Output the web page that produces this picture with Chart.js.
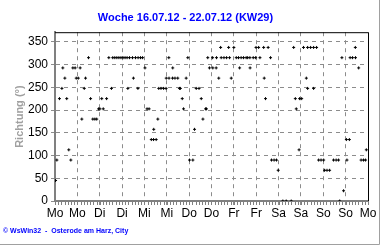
<!DOCTYPE html>
<html lang="de">
<head>
    <meta charset="UTF-8">
    <title>Woche 16.07.12 - 22.07.12 (KW29)</title>
    <script src="https://cdn.jsdelivr.net/npm/chart.js"></script>
    <style>
        body { margin: 0; background: #fff; }
        #wrap { width: 380px; height: 245px; }
    </style>
</head>
<body>
    <div id="wrap"><canvas id="windChart" width="380" height="245"></canvas></div>

    <script>
        // hours since Monday 16.07.12 00:00, wind direction in degrees
        const hours = [
            0.3, 1.0, 2.4, 3.7, 4.2, 5.3, 6.3, 7.4, 8.5, 9.6, 10.8, 11.4, 12.5, 13.5, 14.4, 15.7, 16.4, 18.0, 19.1,
            20.3, 21.4, 22.4, 23.4, 24.1, 25.1, 25.9, 27.7, 28.9, 30.3, 31.0, 32.1, 33.2, 34.3, 35.4, 36.5, 37.6,
            38.7, 39.1, 40.0, 41.6, 42.1, 43.2, 44.5, 44.6, 45.9, 47.0, 48.3, 49.4, 50.5, 51.7, 52.9, 53.0, 54.3,
            55.2, 55.7, 56.9, 58.3, 59.6, 59.7, 61.1, 61.2, 63.1, 63.2, 64.4, 65.9, 66.8, 67.3, 68.3, 69.0, 70.4,
            71.3, 72.2, 74.0, 74.9, 75.8, 77.3, 78.5, 79.4, 80.8, 81.3, 82.0, 82.9, 84.6, 84.7, 86.5, 86.7, 87.9,
            88.9, 89.2, 90.7, 92.1, 93.2, 93.7, 94.6, 96.0, 97.3, 98.5, 99.1, 99.9, 101.2, 102.6, 103.4, 104.6,
            104.7, 106.4, 107.7, 107.9, 109.3, 110.0, 112.0, 112.3, 113.0, 114.4, 115.7, 116.2, 117.6, 118.9,
            119.8, 122.3, 124.1, 126.8, 128.1, 129.0, 129.5, 131.0, 131.3, 132.4, 133.4, 134.9, 135.6, 135.6,
            137.2, 138.8, 138.8, 140.4, 141.5, 142.8, 144.2, 144.7, 146.0, 147.4, 149.5, 150.9, 152.2, 152.8,
            154.0, 154.9, 156.4, 156.7, 158.0, 158.4, 159.7, 161.2, 161.3, 163.0, 164.3, 165.6, 166.7, 167.1
        ];
        const directions = [
            45, 90, 225, 247.5, 292.5, 270, 225, 112.5, 90, 292.5, 292.5, 270, 270, 292.5, 180, 247.5, 270, 315, 225,
            180, 180, 180, 202.5, 202.5, 225, 202.5, 225, 315, 247.5, 315, 315, 315, 315, 315, 315, 315,
            315, 247.5, 315, 315, 270, 315, 247.5, 315, 315, 315, 292.5, 202.5, 202.5, 135, 135, 157.5, 135,
            180, 247.5, 247.5, 247.5, 247.5, 270, 315, 270, 270, 292.5, 270, 270, 247.5, 247.5, 225, 202.5, 270,
            315, 90, 90, 157.5, 247.5, 247.5, 225, 180, 202.5, 202.5, 315, 292.5, 315, 292.5, 292.5, 315, 270,
            337.5, 315, 315, 315, 337.5, 315, 270, 337.5, 315, 315, 292.5, 315, 315, 315, 315, 315,
            292.5, 315, 315, 337.5, 337.5, 315, 337.5, 270, 225, 337.5, 315, 90, 90, 90,
            67.5, 0, 0, 0, 337.5, 225, 202.5, 112.5, 225, 225, 337.5, 270, 337.5, 247.5,
            337.5, 337.5, 247.5, 337.5, 90, 90, 90, 67.5, 67.5, 67.5, 90, 90, 90, 0,
            315, 22.5, 135, 90, 135, 315, 315, 337.5, 315, 292.5, 90, 90, 90, 112.5
        ];
        const dayLabels = ['Mo', 'Mo', 'Di', 'Di', 'Mi', 'Mi', 'Do', 'Do', 'Fr', 'Fr', 'Sa', 'Sa', 'So', 'So', 'Mo'];
        const yTickValues = [0, 50, 100, 150, 200, 250, 300, 350];

        const fontFamily = '"Liberation Sans", Arial, sans-serif';

        // black frame on top/right, minor ticks on the time axis, outer grey edge
        const framePlugin = {
            id: 'frame',
            afterDraw(chart) {
                const { ctx, chartArea: a, scales } = chart;
                ctx.save();
                ctx.strokeStyle = '#000';
                ctx.lineWidth = 1;
                ctx.beginPath();
                ctx.moveTo(a.left, a.top + 0.5);
                ctx.lineTo(a.right + 0.5, a.top + 0.5);
                ctx.lineTo(a.right + 0.5, a.bottom);
                ctx.stroke();

                ctx.strokeStyle = '#808080';
                ctx.beginPath();
                for (let v = 0; v <= 168.01; v += 12 / 7) {
                    const px = Math.round(scales.x.getPixelForValue(v)) + 0.5;
                    ctx.moveTo(px, a.bottom);
                    ctx.lineTo(px, a.bottom + 4);
                }
                ctx.stroke();

                ctx.strokeStyle = '#a0a0a0';
                ctx.beginPath();
                ctx.moveTo(chart.width - 0.5, 0);
                ctx.lineTo(chart.width - 0.5, chart.height - 0.5);
                ctx.lineTo(0, chart.height - 0.5);
                ctx.stroke();
                ctx.restore();
            }
        };

        const ctx = document.getElementById('windChart').getContext('2d');
        const windChart = new Chart(ctx, {
            type: 'scatter',
            data: {
                datasets: [{
                    data: hours.map((h, i) => ({ x: h, y: directions[i] })),
                    pointStyle: 'cross',
                    radius: 1.5,
                    borderColor: '#000',
                    backgroundColor: '#000',
                    borderWidth: 1
                }]
            },
            options: {
                responsive: false,
                animation: false,
                layout: { padding: { left: 3, right: 12, top: 0, bottom: 5.6 } },
                plugins: {
                    legend: { display: false },
                    tooltip: { enabled: false },
                    title: {
                        display: true,
                        text: 'Woche 16.07.12 - 22.07.12 (KW29)',
                        color: '#0000ff',
                        font: { family: fontFamily, size: 11, weight: 'bold' },
                        padding: { top: 11, bottom: 8 }
                    },
                    subtitle: {
                        display: true,
                        position: 'bottom',
                        align: 'start',
                        text: '\u00a9 WsWin32  -  Osterode am Harz, City',
                        color: '#0000ff',
                        font: { family: fontFamily, size: 7, weight: 'bold' },
                        padding: { top: 4, bottom: 4 }
                    }
                },
                scales: {
                    x: {
                        type: 'linear',
                        min: 0,
                        max: 168,
                        afterFit: scale => { scale.height = 22; },
                        ticks: {
                            stepSize: 12,
                            autoSkip: false,
                            maxRotation: 0,
                            padding: 1,
                            color: '#000',
                            font: { family: fontFamily, size: 12 },
                            callback: v => dayLabels[Math.round(v / 12)]
                        },
                        grid: { color: '#8c8c8c', lineWidth: 1, tickLength: 4 },
                        border: { display: true, color: '#808080', width: 2, dash: [4, 4] }
                    },
                    y: {
                        min: 0,
                        max: 371,
                        afterFit: scale => { scale.width = 52; },
                        afterBuildTicks: scale => {
                            scale.ticks = yTickValues.map(v => ({ value: v }));
                        },
                        ticks: {
                            color: '#000',
                            padding: 3,
                            font: { family: fontFamily, size: 12 }
                        },
                        grid: { color: '#8c8c8c', lineWidth: 1, tickLength: 4 },
                        border: { display: true, color: '#808080', width: 2, dash: [4, 4] },
                        title: {
                            display: true,
                            text: 'Richtung (\u00b0)',
                            color: '#a0a0a0',
                            font: { family: fontFamily, size: 11, weight: 'bold' },
                            padding: { top: 10, bottom: 0 }
                        }
                    }
                }
            },
            plugins: [framePlugin]
        });
    </script>
</body>
</html>
